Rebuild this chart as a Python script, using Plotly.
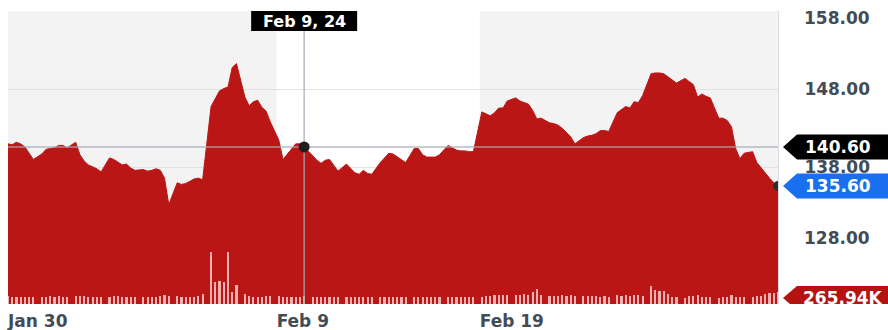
import plotly.graph_objects as go

# Trading sessions shown on the chart (7 hourly bars per session)
sessions = ["Jan 30", "Jan 31", "Feb 1", "Feb 2", "Feb 5", "Feb 6", "Feb 7", "Feb 8",
            "Feb 9", "Feb 12", "Feb 13", "Feb 14", "Feb 15", "Feb 16", "Feb 19",
            "Feb 20", "Feb 21", "Feb 22", "Feb 23", "Feb 26", "Feb 27", "Feb 28", "Feb 29"]
BARS_PER_SESSION = 7
SLOT_STEP = 8  # 7 bars plus one spacer slot between sessions

# Hourly closing prices, one row per session
close = [
    141.0, 140.9, 141.2, 141.0, 140.6, 139.8, 139.0,   # Jan 30
    139.7, 140.3, 140.4, 140.5, 140.8, 140.8, 140.5,   # Jan 31
    141.2, 139.6, 138.8, 138.3, 138.1, 137.8, 137.4,   # Feb 1
    139.2, 139.0, 138.6, 138.3, 138.4, 137.9, 137.6,   # Feb 2
    137.7, 137.5, 137.6, 137.8, 137.6, 136.6, 133.2,   # Feb 5
    136.0, 135.8, 135.9, 136.2, 136.5, 136.6, 136.4,   # Feb 6
    145.8, 146.8, 147.8, 148.1, 148.3, 150.8, 151.3,   # Feb 7
    147.0, 145.9, 146.4, 146.6, 145.7, 145.2, 143.8,   # Feb 8
    141.5, 139.0, 139.7, 140.3, 141.0, 141.0, 140.6,   # Feb 9
    139.5, 138.9, 138.5, 138.9, 139.0, 138.2, 137.5,   # Feb 12
    138.4, 137.9, 137.3, 137.1, 137.6, 137.2, 137.1,   # Feb 13
    138.6, 139.2, 139.8, 139.7, 139.3, 139.0, 138.6,   # Feb 14
    140.4, 140.4, 139.6, 139.3, 139.3, 139.3, 139.6,   # Feb 15
    140.8, 140.5, 140.2, 140.1, 140.1, 140.0, 140.0,   # Feb 16
    145.1, 144.9, 144.6, 145.0, 145.6, 145.6, 146.5,   # Feb 19
    146.9, 146.5, 146.3, 146.1, 145.3, 144.2, 144.3,   # Feb 20
    143.7, 143.6, 143.4, 143.0, 142.5, 141.9, 141.0,   # Feb 21
    141.8, 142.0, 142.1, 142.3, 142.7, 142.7, 142.6,   # Feb 22
    145.0, 145.4, 145.8, 145.6, 146.4, 146.3, 147.2,   # Feb 23
    150.0, 150.1, 150.1, 150.0, 149.6, 149.2, 148.8,   # Feb 26
    149.4, 149.0, 148.6, 147.0, 147.4, 147.1, 146.9,   # Feb 27
    144.3, 144.3, 144.0, 143.2, 140.4, 139.1, 139.8,   # Feb 28
    140.0, 138.6, 137.9, 137.2, 136.6, 136.0, 135.6,   # Feb 29
]

# Hourly volume, thousands of shares
volume_k = [
    175, 160, 160, 155, 160, 165, 150,
    150, 160, 170, 165, 175, 160, 155,
    185, 180, 175, 160, 160, 165, 155,
    150, 170, 175, 160, 165, 160, 155,
    160, 155, 160, 165, 180, 190, 185,
    170, 160, 155, 160, 165, 175, 220,
    1150, 480, 520, 480, 1150, 270, 420,
    230, 170, 165, 160, 165, 170, 175,
    175, 165, 160, 160, 165, 160, 170,
    160, 155, 155, 155, 155, 160, 155,
    155, 160, 150, 160, 155, 160, 150,
    160, 155, 160, 165, 155, 160, 150,
    150, 155, 155, 155, 155, 160, 155,
    160, 155, 150, 155, 160, 150, 155,
    160, 175, 180, 190, 195, 190, 200,
    200, 210, 230, 205, 260, 330, 200,
    180, 170, 185, 200, 180, 190, 170,
    185, 175, 170, 170, 165, 170, 160,
    195, 180, 200, 185, 190, 200, 175,
    390, 320, 290, 280, 220, 160, 150,
    140, 175, 170, 210, 160, 165, 150,
    140, 150, 165, 205, 150, 160, 145,
    150, 175, 185, 215, 240, 250, 265.94,
]

x_tick_sessions = ["Jan 30", "Feb 9", "Feb 19"]
y_ticks = [158, 148, 138, 128]
hover_session = "Feb 9"
hover_text = "Feb 9, 24"
volume_text = "265.94K"

RED = "#bb1616"
BAND = "#f3f3f3"
GRID = "#e2e2e2"
TICK_COLOR = "#434c56"
FONT = "DejaVu Sans"
FONT_SIZE = 17

# x positions: session d, bar i -> d*SLOT_STEP + i
xs = [d * SLOT_STEP + i for d in range(len(sessions)) for i in range(BARS_PER_SESSION)]
session_start = {s: d * SLOT_STEP - 0.5 for d, s in enumerate(sessions)}
x_end = xs[-1]
x_range = [0, x_end]

hover_idx = sessions.index(hover_session) * BARS_PER_SESSION + BARS_PER_SESSION - 1
hover_x = xs[hover_idx]
hover_y = close[hover_idx]
last_x, last_y = xs[-1], close[-1]

y_range = [120.45, 158.05]

fig = go.Figure()

fig.add_trace(go.Scatter(
    x=xs, y=close, mode="lines",
    line=dict(color=RED, width=1),
    fill="tozeroy", fillcolor=RED,
    hoverinfo="skip", showlegend=False,
))

fig.add_trace(go.Bar(
    x=xs, y=volume_k, yaxis="y2", width=0.5,
    marker=dict(color="rgba(255,232,232,0.74)", line=dict(width=0)),
    hoverinfo="skip", showlegend=False,
))

tick_font = dict(family=FONT, size=FONT_SIZE, color=TICK_COLOR, weight="bold")

tickvals = [max(session_start[s], x_range[0]) for s in x_tick_sessions]

shapes = []
# alternating period bands
band_edges = tickvals + [x_end + 1]
for k in range(len(band_edges) - 1):
    if k % 2 == 0:
        shapes.append(dict(type="rect", xref="x", yref="paper",
                           x0=band_edges[k] - 1 if k == 0 else band_edges[k],
                           x1=band_edges[k + 1], y0=0, y1=1,
                           fillcolor=BAND, line=dict(width=0), layer="below"))

CROSS = "rgba(165,172,182,0.8)"
top_box = 0.9317
# crosshair
shapes.append(dict(type="line", xref="x", yref="paper", x0=hover_x, x1=hover_x,
                   y0=0, y1=top_box, line=dict(color=CROSS, width=1.5)))
shapes.append(dict(type="line", xref="paper", yref="y", x0=0, x1=1,
                   y0=hover_y, y1=hover_y, line=dict(color=CROSS, width=1.5)))
# markers on the crosshair and at the last close
for (mx, my, col, r) in [(hover_x, hover_y, "#1e1e1e", 5.5), (last_x, last_y, "#2e2e2e", 5)]:
    shapes.append(dict(type="circle", xref="x", yref="y",
                       xsizemode="pixel", ysizemode="pixel",
                       xanchor=mx, yanchor=my, x0=-r, x1=r, y0=-r, y1=r,
                       fillcolor=col, line=dict(width=0)))
# date box on top of the crosshair
shapes.append(dict(type="rect", xref="x", yref="paper", xsizemode="pixel",
                   xanchor=hover_x, x0=-53, x1=53, y0=top_box, y1=1.0,
                   fillcolor="#000000", line=dict(width=0)))

# value flags on the right
flag_path = "M 5,{c} L 19,{t} L 112,{t} L 112,{b} L 19,{b} Z"
def flag(yref, yval, color, shift=0, half=12.5):
    return dict(type="path", xref="paper", yref=yref,
                xsizemode="pixel", ysizemode="pixel", xanchor=1, yanchor=yval,
                path=flag_path.format(c=shift, t=shift + half, b=shift - half),
                fillcolor=color, line=dict(width=0))

shapes.append(flag("y", hover_y, "#000000"))
shapes.append(flag("y", last_y, "#1a6ff0"))
shapes.append(flag("y2", volume_k[-1], "#b51212", shift=-6, half=12))

label_font = dict(family=FONT, size=FONT_SIZE, color="#ffffff", weight="bold")
annotations = [
    dict(xref="x", yref="paper", x=hover_x, y=(top_box + 1.0) / 2, text=hover_text,
         showarrow=False, font=dict(label_font, size=16), xanchor="center", yanchor="middle"),
    dict(xref="paper", yref="y", x=1, y=hover_y, xshift=25, text=f"{hover_y:.2f}",
         showarrow=False, font=label_font, xanchor="left", yanchor="middle"),
    dict(xref="paper", yref="y", x=1, y=last_y, xshift=25, text=f"{last_y:.2f}",
         showarrow=False, font=label_font, xanchor="left", yanchor="middle"),
    dict(xref="paper", yref="y2", x=1, y=volume_k[-1], xshift=23, yshift=-6,
         text=volume_text, showarrow=False, font=label_font,
         xanchor="left", yanchor="middle"),
]
# outermost price labels sit just inside the plot's top and bottom
edge_shift = {y_ticks[0]: -7, y_ticks[-1]: 7}
for v, dy in edge_shift.items():
    annotations.insert(0, dict(xref="paper", yref="y", x=1, y=v, xshift=24, yshift=dy,
                               text=f"{v:.2f}", showarrow=False, font=tick_font,
                               xanchor="left", yanchor="middle"))
mid_ticks = [v for v in y_ticks if v not in edge_shift]

fig.update_layout(
    width=888, height=330,
    margin=dict(l=8, r=110, t=11, b=26, autoexpand=False),
    paper_bgcolor="#ffffff", plot_bgcolor="#ffffff",
    bargap=0, showlegend=False,
    xaxis=dict(range=x_range, tickvals=tickvals, ticktext=x_tick_sessions,
               ticks="", ticklabelposition="outside right", ticklabelstandoff=5,
               tickfont=tick_font, showgrid=False, zeroline=False,
               showline=False, fixedrange=True, automargin=False),
    yaxis=dict(range=y_range, side="right", tickvals=y_ticks,
               ticktext=[f"{v:.2f}" if v in mid_ticks else "" for v in y_ticks],
               ticks="", ticklabelstandoff=22, tickfont=tick_font,
               showgrid=True, gridcolor=GRID, gridwidth=1, automargin=False,
               zeroline=False, showline=True, linecolor="#d9dde3", fixedrange=True),
    yaxis2=dict(range=[0, 6500], overlaying="y", visible=False, fixedrange=True),
    shapes=shapes,
    annotations=annotations,
)

fig.write_html("out.html")
